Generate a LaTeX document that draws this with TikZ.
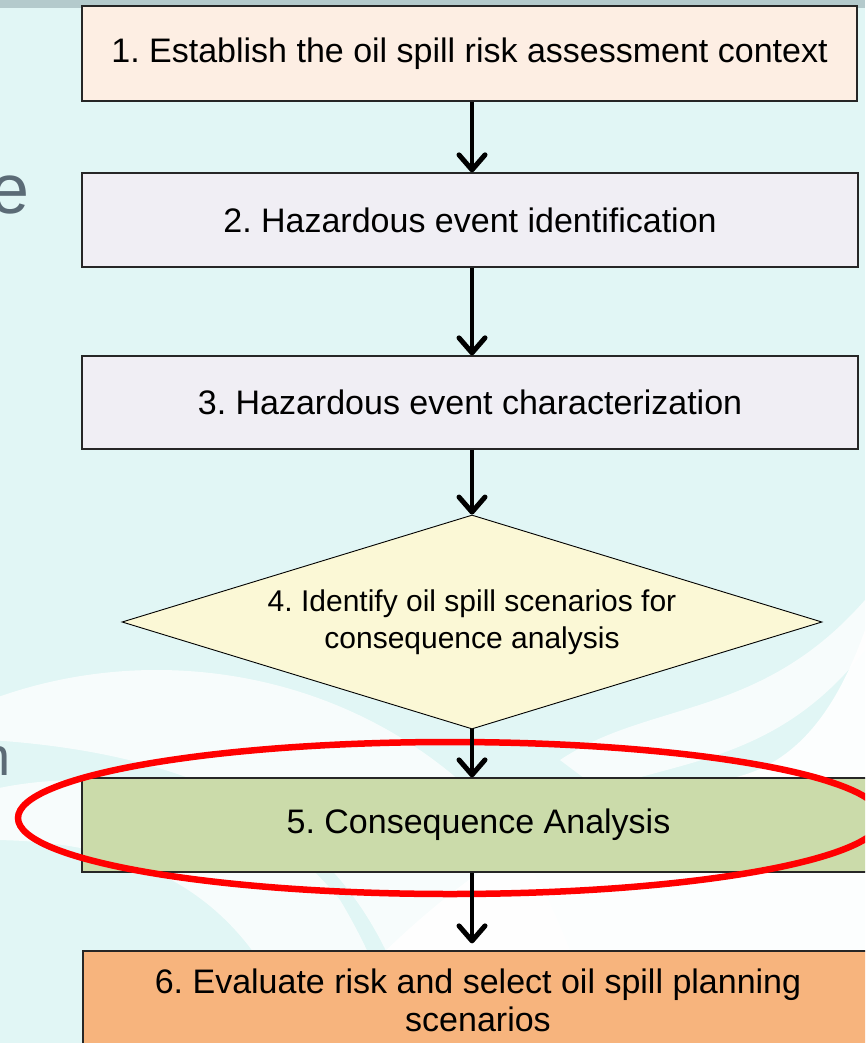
\documentclass[tikz,border=0pt]{standalone}
\usepackage{fontspec}
\setmainfont{Liberation Sans}
\usetikzlibrary{shapes.geometric,arrows.meta}
\definecolor{bgcyan}{HTML}{E1F6F5}
\definecolor{topband}{HTML}{B4CACC}
\definecolor{peach}{HTML}{FDEEE3}
\definecolor{lav}{HTML}{F0EEF4}
\definecolor{yel}{HTML}{FBF8D6}
\definecolor{sage}{HTML}{CBDBAA}
\definecolor{orng}{HTML}{F7B47D}
\definecolor{slate}{HTML}{5B6B76}
\frenchspacing
\begin{document}
\begin{tikzpicture}[x=1pt,y=-1pt,
  box/.style={rectangle, draw=black!85, line width=1.3pt, inner sep=0pt, align=center,
    font=\fontsize{34}{38.5}\selectfont},
  flow/.style={line width=4.5pt, -{Straight Barb[length=15pt,width=26pt,line width=5pt,round]}},
  bgtext/.style={anchor=base east, inner sep=0pt, text=slate},
  wave/.style={white, opacity=0.75}]
\useasboundingbox (0,0) rectangle (865,1043);
\clip (0,0) rectangle (865,1043);
% background
\fill[bgcyan] (0,0) rectangle (865,1043);
\fill[wave] (-10,700) .. controls (150,640) and (340,670) .. (470,790)
   .. controls (520,840) and (560,900) .. (600,1043) -- (420,1043)
   .. controls (380,900) and (300,760) .. (-10,740) -- cycle;
\fill[wave] (-10,790) .. controls (120,760) and (260,800) .. (340,900)
   .. controls (370,950) and (390,1000) .. (400,1043) -- (300,1043)
   .. controls (260,930) and (180,840) .. (-10,840) -- cycle;
\fill[white, opacity=0.9] (300,1043) .. controls (420,900) and (560,790) .. (720,780)
   .. controls (800,770) and (840,700) .. (865,630) -- (865,1043) -- cycle;
\fill[wave] (560,760) .. controls (650,700) and (760,720) .. (865,600) -- (865,650)
   .. controls (780,760) and (680,760) .. (600,790) -- cycle;
\fill[topband] (0,0) rectangle (865,8);
% cut-off slide text
\node[bgtext, font=\fontsize{70}{70}\selectfont] (te) at (30,213) {e};
\node[bgtext, font=\fontsize{54}{54}\selectfont] (tn) at (11,775) {n};
% flow
\node[box, fill=peach, minimum width=775pt, minimum height=95pt] (b1) at (469.5,53.5)
  {1. Establish the oil spill risk assessment context};
\node[box, fill=lav, minimum width=776pt, minimum height=94pt] (b2) at (470,220)
  {2. Hazardous event identification};
\node[box, fill=lav, minimum width=776pt, minimum height=93pt] (b3) at (470,402.5)
  {3. Hazardous event characterization};
\node[diamond, draw=black, line width=0.9pt, fill=yel, aspect=3.27, inner sep=0pt,
  minimum width=700pt, minimum height=214pt, align=center,
  font=\fontsize{30}{37}\selectfont] (d) at (472,622)
  {4. Identify oil spill scenarios for\\consequence analysis};
\node[box, fill=sage, minimum width=793pt, minimum height=94pt] (b5) at (478.5,825)
  {5. Consequence Analysis};
\node[box, fill=orng, minimum width=790pt, minimum height=98pt, text depth=0pt] (b6) at (478,1000)
  {6. Evaluate risk and select oil spill planning\\scenarios};
% highlight
\draw[red, line width=6.5pt] (450,818) ellipse [x radius=432pt, y radius=76pt];
% arrows
\draw[flow] (b1.south -| d.south) -- (b2.north -| d.south);
\draw[flow] (b2.south -| d.south) -- (b3.north -| d.south);
\draw[flow] (b3.south -| d.south) -- (d.north);
\draw[flow] (d.south) -- (b5.north -| d.south);
\draw[flow, shorten >=7pt] (b5.south -| d.south) -- (b6.north -| d.south);
\end{tikzpicture}
\end{document}
